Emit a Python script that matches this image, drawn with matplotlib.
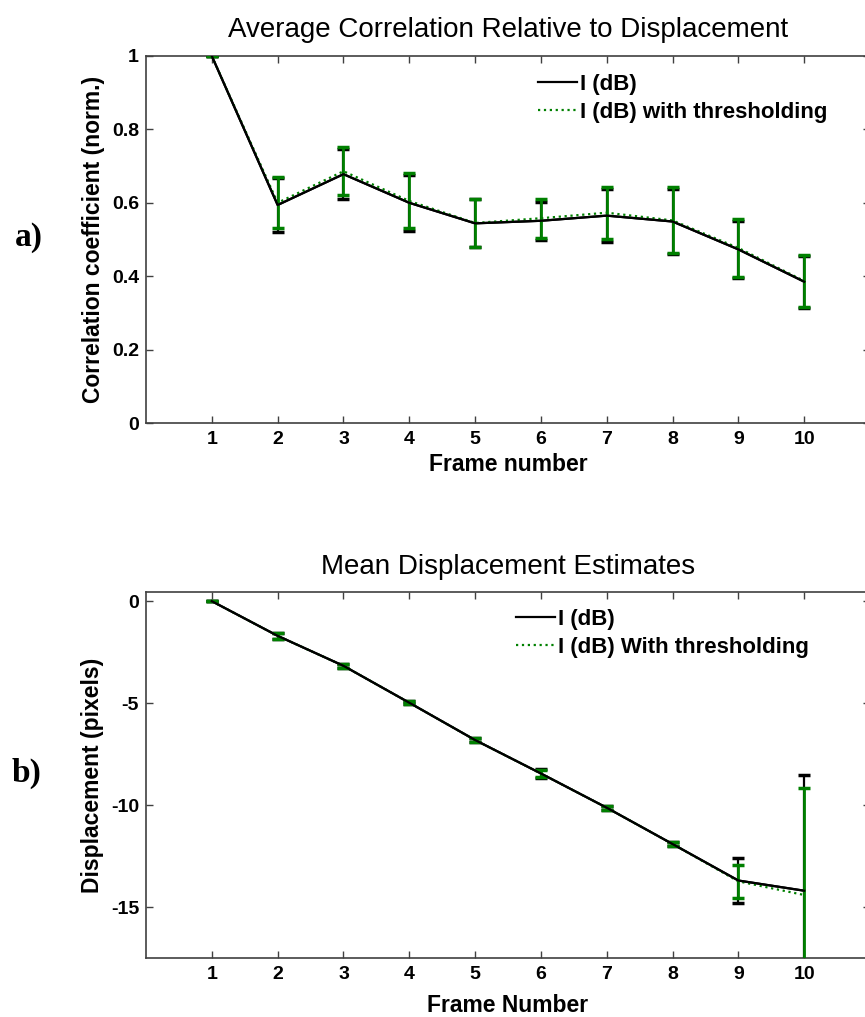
import matplotlib
matplotlib.use("Agg")
import matplotlib.pyplot as plt
from matplotlib.lines import Line2D

plt.rcParams['font.family'] = ['Liberation Sans', 'DejaVu Sans']
plt.rcParams['axes.unicode_minus'] = False

# ---------------- data ----------------
frames = [1, 2, 3, 4, 5, 6, 7, 8, 9, 10]

# (a) correlation
corr_db = [1.0, 0.594, 0.678, 0.600, 0.544, 0.551, 0.565, 0.549, 0.473, 0.385]
corr_db_err = [0.0, 0.074, 0.069, 0.077, 0.065, 0.052, 0.073, 0.089, 0.077, 0.071]
corr_thr = [1.0, 0.600, 0.686, 0.605, 0.545, 0.558, 0.573, 0.552, 0.477, 0.387]
corr_thr_err = [0.0, 0.070, 0.065, 0.075, 0.066, 0.053, 0.071, 0.090, 0.079, 0.072]

# (b) displacement
disp_db = [0.0, -1.70, -3.17, -4.98, -6.81, -8.45, -10.13, -11.91, -13.70, -14.20]
disp_db_err = [0.0, 0.15, 0.10, 0.08, 0.08, 0.20, 0.10, 0.12, 1.08, 5.67]
disp_thr = [0.0, -1.70, -3.17, -4.98, -6.81, -8.45, -10.13, -11.91, -13.74, -14.41]
disp_thr_err = [0.0, 0.14, 0.10, 0.08, 0.08, 0.18, 0.10, 0.11, 0.80, 5.26]

corr_yticks = [0, 0.2, 0.4, 0.6, 0.8, 1]
corr_yticklabels = ['0', '0.2', '0.4', '0.6', '0.8', '1']
disp_yticks = [0, -5, -10, -15]
disp_yticklabels = ['0', '-5', '-10', '-15']

titles = ['Average Correlation Relative to Displacement', 'Mean Displacement Estimates']
xlabels = ['Frame number', 'Frame Number']
ylabels = ['Correlation coefficient (norm.)', 'Displacement (pixels)']
legend_a = ['I (dB)', 'I (dB) with thresholding']
legend_b = ['I (dB)', 'I (dB) With thresholding']

GREEN = '#008000'
W, H = 865, 1017
fig = plt.figure(figsize=(W / 100, H / 100), dpi=100)

def px_axes(l, t, r, b):
    return fig.add_axes([l / W, 1 - b / H, (r - l) / W, (b - t) / H])

ax1 = px_axes(146, 56, 870, 423)
ax2 = px_axes(146, 592, 870, 958)

def style(ax, title, xl, yl, xlabelpad, titlepad):
    ax.set_xlim(0, 11)
    ax.set_xticks(frames)
    ax.set_xticklabels([str(f) for f in frames])
    for s in ax.spines.values():
        s.set_color('#404040')
        s.set_linewidth(1.2)
    ax.tick_params(direction='in', top=True, right=True, length=5, width=1,
                   color='#404040', labelsize=14)
    ax.tick_params(axis='x', pad=5.5)
    ax.tick_params(axis='y', pad=5)
    for lab in ax.get_xticklabels() + ax.get_yticklabels():
        lab.set_fontweight('bold')
    ax.set_title(title, fontsize=20, pad=titlepad)
    ax.set_xlabel(xl, fontsize=16.5, fontweight='bold', labelpad=xlabelpad)
    ax.set_ylabel(yl, fontsize=16.5, fontweight='bold', labelpad=5)

# ---- (a)
ax1.errorbar(frames, corr_db, yerr=corr_db_err, color='k', lw=1.6,
             elinewidth=1.6, capsize=4.5, capthick=2.5, zorder=3)
ax1.errorbar(frames, corr_thr, yerr=corr_thr_err, color=GREEN, ls=':', lw=1.6,
             elinewidth=2.0, capsize=4.5, capthick=2.5, zorder=4)
ax1.plot(frames, corr_db, color='k', lw=1.6, zorder=5)
ax1.set_ylim(0, 1)
ax1.set_yticks(corr_yticks)
ax1.set_yticklabels(corr_yticklabels)
style(ax1, titles[0], xlabels[0], ylabels[0], 4, 14)

# ---- (b)
ax2.errorbar(frames, disp_db, yerr=disp_db_err, color='k', lw=1.6,
             elinewidth=1.6, capsize=4.5, capthick=2.5, zorder=3)
ax2.errorbar(frames, disp_thr, yerr=disp_thr_err, color=GREEN, ls=':', lw=1.6,
             elinewidth=2.0, capsize=4.5, capthick=2.5, zorder=4)
ax2.plot(frames, disp_db, color='k', lw=1.6, zorder=5)
ax2.set_ylim(-17.5, 0.45)
ax2.set_yticks(disp_yticks)
ax2.set_yticklabels(disp_yticklabels)
style(ax2, titles[1], xlabels[1], ylabels[1], 8, 13)

def add_legend(ax, labels, x, y):
    h = [Line2D([], [], color='k', lw=1.6),
         Line2D([], [], color=GREEN, lw=1.6, ls=':')]
    ax.legend(h, labels, loc='upper left', bbox_to_anchor=(x, y), frameon=False,
              borderpad=0, borderaxespad=0, handlelength=1.75, handletextpad=0.14,
              labelspacing=0.3, prop={'size': 16, 'weight': 'bold'})

add_legend(ax1, legend_a, 0.541, 0.951)
add_legend(ax2, legend_b, 0.511, 0.953)

fig.text(29 / W, 1 - 237 / H, 'a)', family=['Liberation Serif', 'DejaVu Serif'],
         fontweight='bold', fontsize=24, ha='center', va='center')
fig.text(26 / W, 1 - 773 / H, 'b)', family=['Liberation Serif', 'DejaVu Serif'],
         fontweight='bold', fontsize=24, ha='center', va='center')

fig.savefig('out.png', dpi=100)
